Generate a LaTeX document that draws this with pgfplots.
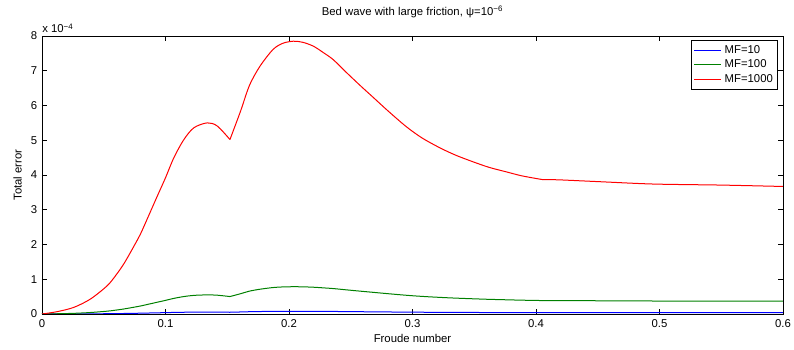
\documentclass[border=0pt]{standalone}
\usepackage{fontspec}
\setmainfont{Liberation Sans}
\usepackage{pgfplots}
\pgfplotsset{compat=1.18}
\definecolor{mgreen}{rgb}{0,0.5,0}
\definecolor{mred}{rgb}{1,0,0}
\definecolor{mblue}{rgb}{0,0,1}
\begin{document}
\begin{tikzpicture}
\begin{axis}[
  at={(0,0)}, anchor=south west,
  scale only axis,
  width=555.75pt, height=208.5pt,
  xmin=0, xmax=0.6, ymin=0, ymax=8,
  clip mode=individual,
  xtick={0,0.1,0.2,0.3,0.4,0.5,0.6},
  xticklabels={0,0.1,0.2,0.3,0.4,0.5,0.6},
  ytick={0,1,2,3,4,5,6,7,8},
  tick align=inside,
  major tick length=3.5pt,
  /pgf/number format/assume math mode=true,
  tick label style={font=\fontsize{8.5}{10}\selectfont},
  xticklabel style={yshift=-0.5pt},
  label style={font=\fontsize{8.5}{10}\selectfont},
  xlabel={Froude number},
  ylabel={Total error},
  xlabel style={yshift=2pt},
  ylabel style={yshift=0pt},
  title={Bed wave with large friction, ψ=10\textsuperscript{−6}},
  title style={font=\fontsize{8.5}{10}\selectfont, yshift=4pt},
  axis line style={line width=0.6pt},
  every tick/.style={black, line width=0.5pt},
  legend style={at={(0.993,0.985)}, anchor=north east, font=\fontsize{8.5}{10}\selectfont,
    inner sep=1.5pt, row sep=-0.5pt,
    legend cell align=left},
  legend image code/.code={\draw[#1] (0cm,0cm) -- (0.72cm,0cm);},
]
\addlegendimage{draw=mblue, line width=0.8pt}
\addlegendentry{MF=10}
\addlegendimage{draw=mgreen, line width=0.8pt}
\addlegendentry{MF=100}
\addlegendimage{draw=mred, line width=0.8pt}
\addlegendentry{MF=1000}
% MF=10
\addplot[mblue, line width=0.75pt, smooth, forget plot] coordinates {
(0,0) (0.0122,0.0007) (0.0257,0.0019) (0.0392,0.0043) (0.0527,0.0081) (0.0595,0.011)
(0.0662,0.0144) (0.073,0.0186) (0.0797,0.023) (0.0865,0.0284) (0.0932,0.0338) (0.1,0.0392)
(0.1068,0.045) (0.1149,0.0502) (0.123,0.0536) (0.1338,0.055) (0.1419,0.0541) (0.1522,0.0502)};
\addplot[mblue, line width=0.75pt, smooth, forget plot] coordinates {
(0.1522,0.0502) (0.1608,0.0584) (0.168,0.0658) (0.1765,0.0713) (0.187,0.0761) (0.195,0.0779)
(0.2035,0.0785) (0.2110,0.0782) (0.2196,0.0771) (0.2275,0.0753) (0.2358,0.0732) (0.2465,0.0695)
(0.2575,0.0658) (0.268,0.0624) (0.28,0.0585) (0.295,0.0539) (0.308,0.0506) (0.3223,0.0478)
(0.335,0.0457) (0.349,0.0438) (0.362,0.0422) (0.376,0.0409) (0.388,0.0398) (0.40,0.039) (0.405,0.0387)};
\addplot[mblue, line width=0.75pt, smooth, forget plot] coordinates {
(0.405,0.0387) (0.419,0.0386) (0.45,0.0381) (0.495,0.0374) (0.55,0.0371) (0.6,0.0367)};
% MF=100
\addplot[mgreen, line width=0.75pt, smooth, forget plot] coordinates {
(0,0) (0.0122,0.007) (0.0257,0.019) (0.0392,0.043) (0.0527,0.081) (0.0595,0.11)
(0.0662,0.144) (0.073,0.186) (0.0797,0.23) (0.0865,0.284) (0.0932,0.338) (0.1,0.392)
(0.1068,0.45) (0.1149,0.502) (0.123,0.536) (0.1338,0.55) (0.1419,0.541) (0.1522,0.502)};
\addplot[mgreen, line width=0.75pt, smooth, forget plot] coordinates {
(0.1522,0.502) (0.1608,0.584) (0.168,0.658) (0.1765,0.713) (0.187,0.761) (0.195,0.779)
(0.2035,0.785) (0.2110,0.782) (0.2196,0.771) (0.2275,0.753) (0.2358,0.732) (0.2465,0.695)
(0.2575,0.658) (0.268,0.624) (0.28,0.585) (0.295,0.539) (0.308,0.506) (0.3223,0.478)
(0.335,0.457) (0.349,0.438) (0.362,0.422) (0.376,0.409) (0.388,0.398) (0.40,0.39) (0.405,0.387)};
\addplot[mgreen, line width=0.75pt, smooth, forget plot] coordinates {
(0.405,0.387) (0.419,0.386) (0.45,0.381) (0.495,0.374) (0.55,0.371) (0.6,0.367)};
% MF=1000
\addplot[mred, line width=0.75pt, smooth, forget plot] coordinates {
(0,0) (0.0122,0.067) (0.0257,0.19) (0.0392,0.43) (0.0527,0.81) (0.0595,1.10)
(0.0662,1.44) (0.073,1.86) (0.0797,2.30) (0.0865,2.84) (0.0932,3.38) (0.1,3.92)
(0.1068,4.50) (0.1149,5.02) (0.123,5.36) (0.1338,5.50) (0.1419,5.41) (0.1522,5.02)};
\addplot[mred, line width=0.75pt, smooth, forget plot] coordinates {
(0.1522,5.02) (0.1608,5.84) (0.168,6.58) (0.1765,7.13) (0.187,7.61) (0.195,7.79)
(0.2035,7.85) (0.2110,7.82) (0.2196,7.71) (0.2275,7.53) (0.2358,7.32) (0.2465,6.95)
(0.2575,6.58) (0.268,6.24) (0.28,5.85) (0.295,5.39) (0.308,5.06) (0.3223,4.78)
(0.335,4.57) (0.349,4.38) (0.362,4.22) (0.376,4.09) (0.388,3.98) (0.40,3.90) (0.405,3.87)};
\addplot[mred, line width=0.75pt, smooth, forget plot] coordinates {
(0.405,3.87) (0.419,3.86) (0.45,3.81) (0.495,3.74) (0.55,3.71) (0.6,3.67)};
\node[anchor=south west, inner sep=0pt, font=\fontsize{8.5}{10}\selectfont] at (rel axis cs:0,1) [yshift=2pt] {x 10\textsuperscript{−4}};
\end{axis}
\pgfresetboundingbox
\path (-31.5pt,-27pt) rectangle (564pt,235.5pt);
\end{tikzpicture}
\end{document}
